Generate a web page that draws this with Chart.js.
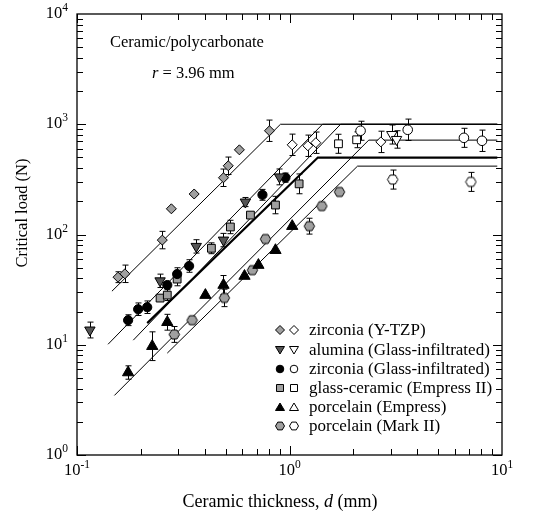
<!DOCTYPE html>
<html>
<head>
<meta charset="utf-8">
<style>
  html, body { margin: 0; padding: 0; background: #fff; }
  #wrap { width: 545px; height: 513px; }
</style>
</head>
<body>
<div id="wrap"><canvas id="chart" width="545" height="513"></canvas></div>
<script src="https://cdn.jsdelivr.net/npm/chart.js@4.4.1/dist/chart.umd.min.js"></script>
<script>
// zirconia (Y-TZP)
const ytzpD = [0.156, 0.168, 0.252, 0.278, 0.356, 0.489, 0.515, 0.581, 0.805];
const ytzpP = [41, 44, 89, 171, 233, 327, 420, 586, 873];
const ytzpErr = [0.12, 0.2, 0.2, 0, 0, 0.2, 0.2, 0, 0.25];
const ytzpOpenD = [1.03, 1.22, 1.33, 2.69];
const ytzpOpenP = [651, 638, 680, 692];
const ytzpOpenErr = [0.25, 0.25, 0.25, 0.25];

// alumina (Glass-infiltrated)
const aluD = [0.115, 0.246, 0.364, 0.489, 0.62, 0.897];
const aluP = [13.6, 38, 78, 89, 197, 333];
const aluErr = [0.18, 0.15, 0.15, 0.15, 0.1, 0.18];
const aluOpenD = [3.03, 3.19];
const aluOpenP = [807, 728];
const aluOpenErr = [0.22, 0.2];

// zirconia (Glass-infiltrated)
const zgiD = [0.174, 0.194, 0.214, 0.266, 0.296, 0.337, 0.746, 0.957];
const zgiP = [16.7, 21, 21.9, 34.8, 43.8, 51.8, 229, 328];
const zgiErr = [0.12, 0.14, 0.14, 0, 0.14, 0.14, 0.12, 0.1];
const zgiOpenD = [2.16, 3.6, 6.62, 8.05];
const zgiOpenP = [873, 891, 753, 708];
const zgiOpenErr = [0.22, 0.25, 0.22, 0.25];

// glass-ceramic (Empress II)
const emp2D = [0.246, 0.266, 0.296, 0.429, 0.527, 0.655, 0.859, 1.11];
const emp2P = [26.5, 28.2, 39.4, 75, 117, 150, 185, 288];
const emp2Err = [0, 0.12, 0.15, 0.12, 0.15, 0, 0.2, 0.23];
const emp2OpenD = [1.70, 2.07];
const emp2OpenP = [665, 723];
const emp2OpenErr = [0.22, 0.18];

// porcelain (Empress)
const empD = [0.174, 0.226, 0.266, 0.402, 0.489, 0.614, 0.714, 0.859, 1.03];
const empP = [5.6, 9.7, 16, 28.2, 34.8, 42, 52.8, 72, 119];
const empErr = [0.15, 0.35, 0.18, 0, 0.22, 0, 0, 0, 0];

// porcelain (Mark II)
const mk2D = [0.287, 0.348, 0.494, 0.669, 0.771, 1.24, 1.42, 1.72];
const mk2P = [12.4, 16.7, 26.6, 47.5, 91, 119, 181, 243];
const mk2Err = [0.18, 0, 0.2, 0, 0, 0.18, 0, 0];
const mk2OpenD = [3.06, 7.14];
const mk2OpenP = [315, 300];
const mk2OpenErr = [0.22, 0.22];

// fitted lines: start point, knee, plateau to the end
const fitStartD = [0.146, 0.14, 0.184, 0.214, 0.15, 0.266];
const fitStartP = [30.6, 10.1, 11, 15.7, 3.47, 8.4];
const fitKneeD = [0.907, 1.43, 1.74, 1.36, 2.36, 2.09];
const fitLevelP = [1000, 1000, 1000, 499, 718, 417];
const fitWidth = [1, 1, 1, 2.2, 1, 1];
const fitEndD = 9.5;

const legendLabels = [
    'zirconia (Y-TZP)',
    'alumina (Glass-infiltrated)',
    'zirconia (Glass-infiltrated)',
    'glass-ceramic (Empress II)',
    'porcelain (Empress)',
    'porcelain (Mark II)'
];

const GRAY = '#a0a0a0';
const DARK = '#555555';
const SERIF = '"Liberation Serif", "DejaVu Serif", serif';

function hexPath(ctx, x, y, r) {
    ctx.beginPath();
    for (let k = 0; k < 6; k++) {
        const a = k * Math.PI / 3;
        const px = x + r * Math.cos(a), py = y + r * Math.sin(a);
        if (k === 0) ctx.moveTo(px, py); else ctx.lineTo(px, py);
    }
    ctx.closePath();
}

function makeHex(fill, r) {
    const c = document.createElement('canvas');
    c.width = c.height = Math.ceil(2 * r + 2);
    const g = c.getContext('2d');
    hexPath(g, c.width / 2, c.height / 2, r);
    g.fillStyle = fill;
    g.fill();
    g.lineWidth = 1;
    g.strokeStyle = '#000';
    g.stroke();
    return c;
}

function scatterSet(d, p, err, style, fill, radius, rotation) {
    return {
        type: 'scatter',
        data: d.map(function (v, i) { return { x: v, y: p[i] }; }),
        err: err,
        pointStyle: style,
        pointRadius: radius,
        pointBackgroundColor: fill,
        pointBorderColor: '#000',
        pointBorderWidth: 1,
        pointRotation: rotation || 0,
        order: 1
    };
}

function fitSet(i) {
    return {
        type: 'line',
        data: [
            { x: fitStartD[i], y: fitStartP[i] },
            { x: fitKneeD[i], y: fitLevelP[i] },
            { x: fitEndD, y: fitLevelP[i] }
        ],
        borderColor: '#000',
        borderWidth: fitWidth[i],
        pointRadius: 0,
        fill: false,
        tension: 0,
        order: 5
    };
}

const datasets = [];
for (let i = 0; i < fitStartD.length; i++) datasets.push(fitSet(i));
datasets.push(
    scatterSet(ytzpD, ytzpP, ytzpErr, 'rectRot', GRAY, 5),
    scatterSet(ytzpOpenD, ytzpOpenP, ytzpOpenErr, 'rectRot', '#fff', 5),
    scatterSet(aluD, aluP, aluErr, 'triangle', DARK, 6, 180),
    scatterSet(aluOpenD, aluOpenP, aluOpenErr, 'triangle', '#fff', 6, 180),
    scatterSet(zgiD, zgiP, zgiErr, 'circle', '#000', 4.6),
    scatterSet(zgiOpenD, zgiOpenP, zgiOpenErr, 'circle', '#fff', 4.8),
    scatterSet(emp2D, emp2P, emp2Err, 'rect', GRAY, 5.5),
    scatterSet(emp2OpenD, emp2OpenP, emp2OpenErr, 'rect', '#fff', 5.5),
    scatterSet(empD, empP, empErr, 'triangle', '#000', 6.5),
    scatterSet(mk2D, mk2P, mk2Err, makeHex(GRAY, 5.2), GRAY, 5.2),
    scatterSet(mk2OpenD, mk2OpenP, mk2OpenErr, makeHex('#fff', 5.2), '#fff', 5.2)
);

const errorBarPlugin = {
    id: 'errorBars',
    beforeDatasetsDraw: function (chart) {
        const ctx = chart.ctx, ys = chart.scales.y;
        chart.data.datasets.forEach(function (ds, i) {
            if (!ds.err) return;
            const meta = chart.getDatasetMeta(i);
            ctx.save();
            ctx.strokeStyle = '#000';
            ctx.lineWidth = 1;
            meta.data.forEach(function (pt, j) {
                const f = ds.err[j];
                if (!f) return;
                const v = ds.data[j].y;
                const y1 = ys.getPixelForValue(v * (1 + f));
                const y2 = ys.getPixelForValue(v / (1 + f));
                const x = Math.round(pt.x) + 0.5;
                ctx.beginPath();
                ctx.moveTo(x, y1); ctx.lineTo(x, y2);
                ctx.moveTo(x - 3, y1); ctx.lineTo(x + 3, y1);
                ctx.moveTo(x - 3, y2); ctx.lineTo(x + 3, y2);
                ctx.stroke();
            });
            ctx.restore();
        });
    }
};

function legendMarker(ctx, row, x, y, open) {
    ctx.beginPath();
    const fills = [GRAY, DARK, '#000', GRAY, '#000', GRAY];
    ctx.fillStyle = open ? '#fff' : fills[row];
    if (row === 0) {
        ctx.moveTo(x - 4.5, y); ctx.lineTo(x, y - 4.5); ctx.lineTo(x + 4.5, y); ctx.lineTo(x, y + 4.5);
        ctx.closePath();
    } else if (row === 1) {
        ctx.moveTo(x - 4.5, y - 3.5); ctx.lineTo(x + 4.5, y - 3.5); ctx.lineTo(x, y + 4);
        ctx.closePath();
    } else if (row === 2) {
        ctx.arc(x, y, 3.8, 0, Math.PI * 2);
    } else if (row === 3) {
        ctx.rect(x - 3.5, y - 3.5, 7, 7);
    } else if (row === 4) {
        ctx.moveTo(x - 4.5, y + 3.5); ctx.lineTo(x + 4.5, y + 3.5); ctx.lineTo(x, y - 4);
        ctx.closePath();
    } else {
        hexPath(ctx, x, y, 4.5);
    }
    ctx.fill();
    ctx.lineWidth = 1;
    ctx.strokeStyle = '#000';
    ctx.stroke();
}

function powLabel(ctx, exp, x, y, align) {
    ctx.font = '16.5px ' + SERIF;
    const baseW = ctx.measureText('10').width;
    ctx.font = '11.5px ' + SERIF;
    const expW = ctx.measureText(exp).width;
    let left = x;
    if (align === 'center') left = x - (baseW + expW) / 2;
    if (align === 'right') left = x - baseW - expW;
    ctx.textAlign = 'left';
    ctx.textBaseline = 'alphabetic';
    ctx.font = '16.5px ' + SERIF;
    ctx.fillText('10', left, y);
    ctx.font = '11.5px ' + SERIF;
    ctx.fillText(exp, left + baseW, y - 7);
}

const framePlugin = {
    id: 'frame',
    afterDraw: function (chart) {
        const ctx = chart.ctx, a = chart.chartArea;
        const xs = chart.scales.x, ys = chart.scales.y;
        ctx.save();
        ctx.strokeStyle = '#000';
        ctx.fillStyle = '#000';
        ctx.lineWidth = 1.3;
        ctx.strokeRect(a.left, a.top, a.right - a.left, a.bottom - a.top);

        ctx.lineWidth = 1;
        ctx.beginPath();
        for (let k = -1; k <= 0; k++) {
            for (let m = 1; m <= 9; m++) {
                const px = Math.round(xs.getPixelForValue(m * Math.pow(10, k))) + 0.5;
                const len = m === 1 ? 9 : 6;
                ctx.moveTo(px, a.bottom); ctx.lineTo(px, a.bottom - len);
                ctx.moveTo(px, a.top); ctx.lineTo(px, a.top + len);
            }
        }
        for (let k = 0; k <= 3; k++) {
            for (let m = 1; m <= 9; m++) {
                const py = Math.round(ys.getPixelForValue(m * Math.pow(10, k))) + 0.5;
                const len = m === 1 ? 9 : 6;
                ctx.moveTo(a.left, py); ctx.lineTo(a.left + len, py);
                ctx.moveTo(a.right, py); ctx.lineTo(a.right - len, py);
            }
        }
        ctx.stroke();

        [-1, 0, 1].forEach(function (k) {
            powLabel(ctx, k < 0 ? '-1' : String(k), xs.getPixelForValue(Math.pow(10, k)), a.bottom + 20, 'center');
        });
        [0, 1, 2, 3, 4].forEach(function (k) {
            powLabel(ctx, String(k), a.left - 9, ys.getPixelForValue(Math.pow(10, k)) + 4, 'right');
        });

        // axis titles
        ctx.textAlign = 'left';
        ctx.textBaseline = 'alphabetic';
        const tf = '18px ' + SERIF, tfi = 'italic 18px ' + SERIF;
        ctx.font = tf;
        const t1 = 'Ceramic thickness, ', t2 = 'd', t3 = ' (mm)';
        const w1 = ctx.measureText(t1).width, w3 = ctx.measureText(t3).width;
        ctx.font = tfi;
        const w2 = ctx.measureText(t2).width;
        const tx = 280 - (w1 + w2 + w3) / 2;
        ctx.font = tf;
        ctx.fillText(t1, tx, 507);
        ctx.font = tfi;
        ctx.fillText(t2, tx + w1, 507);
        ctx.font = tf;
        ctx.fillText(t3, tx + w1 + w2, 507);

        ctx.save();
        ctx.translate(27, 213);
        ctx.rotate(-Math.PI / 2);
        ctx.textAlign = 'center';
        ctx.font = '16.5px ' + SERIF;
        ctx.fillText('Critical load (N)', 0, 0);
        ctx.restore();

        // annotation
        ctx.textAlign = 'left';
        ctx.font = '16.5px ' + SERIF;
        ctx.fillText('Ceramic/polycarbonate', 110, 47);
        ctx.font = 'italic 16.5px ' + SERIF;
        ctx.fillText('r', 152, 78);
        const rw = ctx.measureText('r').width;
        ctx.font = '16.5px ' + SERIF;
        ctx.fillText(' = 3.96 mm', 152 + rw, 78);

        // legend
        const rowY = [330, 350, 369, 388, 407, 426];
        ctx.font = '17px ' + SERIF;
        legendLabels.forEach(function (lab, r) {
            legendMarker(ctx, r, 280, rowY[r], false);
            legendMarker(ctx, r, 294, rowY[r], true);
            ctx.fillStyle = '#000';
            ctx.fillText(lab, 309, rowY[r] + 5);
        });
        ctx.restore();
    }
};

new Chart(document.getElementById('chart').getContext('2d'), {
    type: 'scatter',
    data: { datasets: datasets },
    options: {
        responsive: false,
        devicePixelRatio: 1,
        animation: false,
        layout: { padding: { left: 77, top: 14, right: 43, bottom: 58 } },
        plugins: { legend: { display: false }, tooltip: { enabled: false } },
        scales: {
            x: { type: 'logarithmic', min: 0.1, max: 10, display: false },
            y: { type: 'logarithmic', min: 1, max: 10000, display: false }
        }
    },
    plugins: [errorBarPlugin, framePlugin]
});
</script>
</body>
</html>
